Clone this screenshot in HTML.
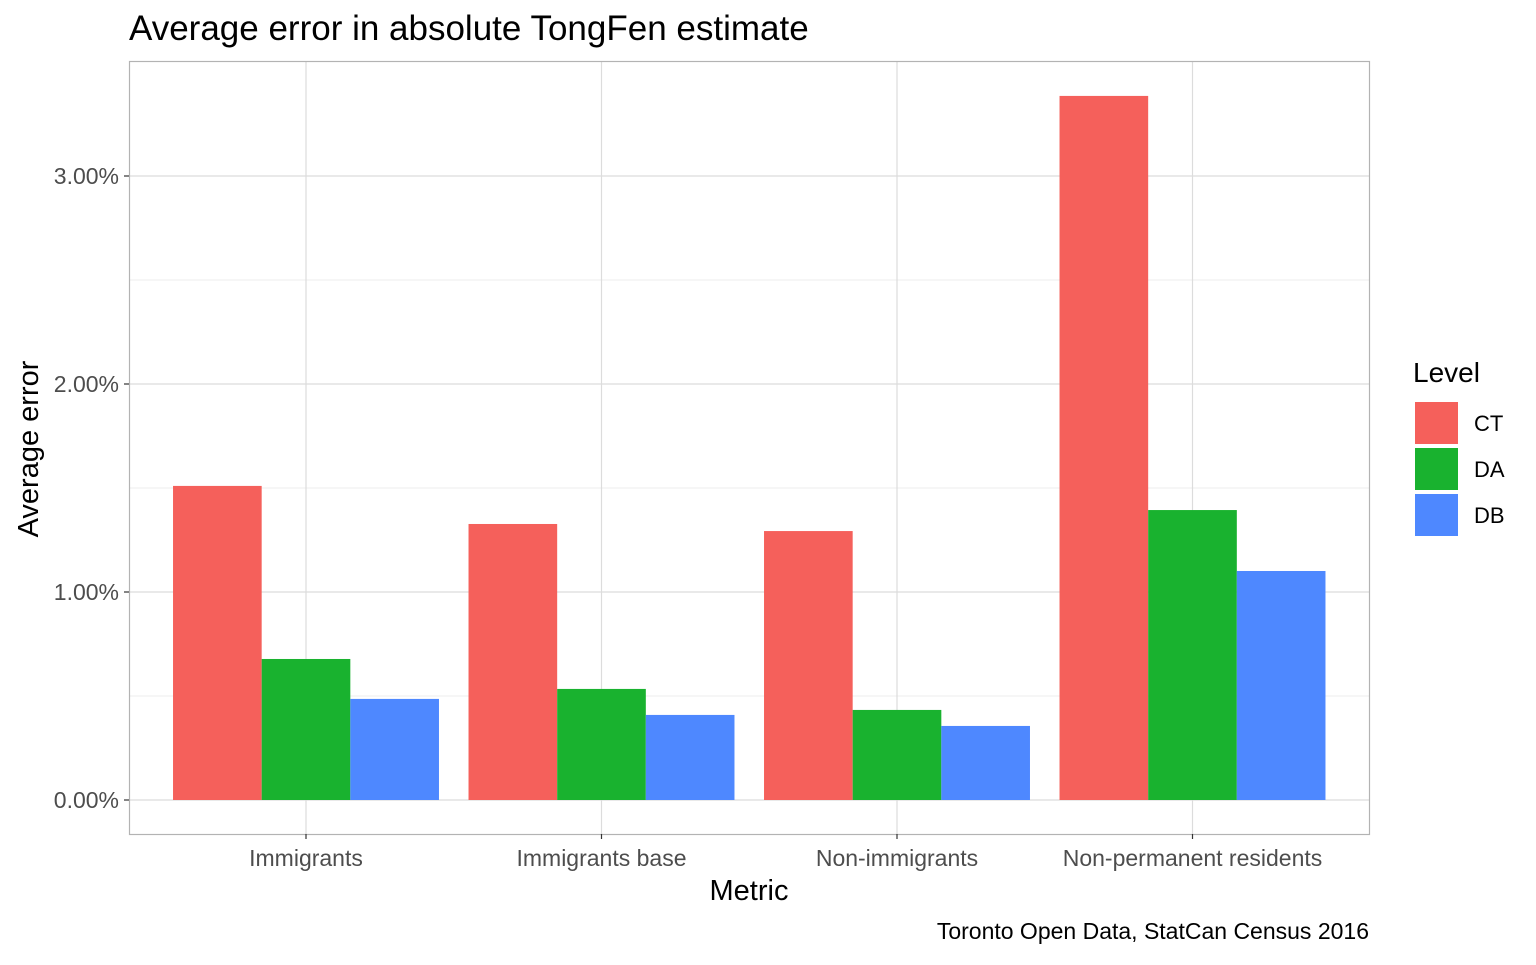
<!DOCTYPE html>
<html><head><meta charset="utf-8"><style>
body{margin:0;background:#fff;font-family:"Liberation Sans",Arial,sans-serif;}
</style></head><body>
<svg id="chart" width="1536" height="960" xmlns="http://www.w3.org/2000/svg" font-family="Liberation Sans, Arial, sans-serif">
<rect width="1536" height="960" fill="#fff"/>
<text x="129" y="40" font-size="35" fill="#000">Average error in absolute TongFen estimate</text>
<g id="grid"></g>
<g id="bars"></g>
<rect x="129.5" y="61.5" width="1240" height="773" fill="none" stroke="#b3b3b3" stroke-width="1.2"/>
<g id="axes"></g>
<text x="749" y="900" font-size="29" text-anchor="middle">Metric</text>
<text transform="translate(38,449) rotate(-90)" font-size="29" text-anchor="middle">Average error</text>
<text x="1369" y="939" font-size="23" text-anchor="end">Toronto Open Data, StatCan Census 2016</text>
<g id="legend">
<text x="1413" y="382" font-size="28">Level</text>
</g>
</svg>
<script>
const categories=["Immigrants","Immigrants base","Non-immigrants","Non-permanent residents"];
const levels=["CT","DA","DB"];
const ctValues=[1.51,1.327,1.293,3.385];
const daValues=[0.678,0.534,0.433,1.394];
const dbValues=[0.486,0.409,0.356,1.101];
const yTicks=[0,1,2,3];
const yTickLabels=["0.00%","1.00%","2.00%","3.00%"];
const colors=["#F5605B","#19B22F","#4E88FF"];
const NS="http://www.w3.org/2000/svg";
const x0=129,x1=1369,y0=61,y1=834;
const yScale=v=>800-v*208;
const step=295.5;
const xCenter=i=>306+step*i;
function mk(tag,attrs,parent){const e=document.createElementNS(NS,tag);for(const k in attrs)e.setAttribute(k,attrs[k]);parent.appendChild(e);return e;}
const grid=document.getElementById('grid'),bars=document.getElementById('bars'),axes=document.getElementById('axes'),legend=document.getElementById('legend');
for(let v=0.5;v<3.5;v+=1){const l=mk('line',{x1:x0,x2:x1,y1:yScale(v),y2:yScale(v),stroke:'#ececec','stroke-width':1},grid);

}
yTicks.forEach((v,i)=>{const l=mk('line',{x1:x0,x2:x1,y1:yScale(v),y2:yScale(v),stroke:'#dcdcdc','stroke-width':1.2},grid);


const tk=mk('line',{x1:x0-5,x2:x0,y1:yScale(v),y2:yScale(v),stroke:'#333','stroke-width':1.2},axes);


const t=mk('text',{x:x0-10,y:yScale(v)+8,'font-size':23,fill:'#4d4d4d','text-anchor':'end'},axes);t.textContent=yTickLabels[i];

});
categories.forEach((c,i)=>{const cx=xCenter(i);
const l=mk('line',{x1:cx,x2:cx,y1:y0,y2:y1,stroke:'#dcdcdc','stroke-width':1.2},grid);


const tk=mk('line',{x1:cx,x2:cx,y1:y1,y2:y1+5,stroke:'#333','stroke-width':1.2},axes);


const t=mk('text',{x:cx,y:866,'font-size':23,fill:'#4d4d4d','text-anchor':'middle'},axes);t.textContent=c;

});
const series=[ctValues,daValues,dbValues];
const groupW=step*0.9,bw=groupW/3;
series.forEach((vals,s)=>vals.forEach((v,i)=>{const x=xCenter(i)-groupW/2+s*bw;
const r=mk('rect',{x:x,y:yScale(v),width:bw,height:yScale(0)-yScale(v),fill:colors[s]},bars);

}));
levels.forEach((lv,i)=>{const y=402+i*46;
const r=mk('rect',{x:1415,y:y,width:43,height:42,fill:colors[i]},legend);


const t=mk('text',{x:1474,y:y+29,'font-size':22},legend);t.textContent=lv;

});
</script>
</body></html>
